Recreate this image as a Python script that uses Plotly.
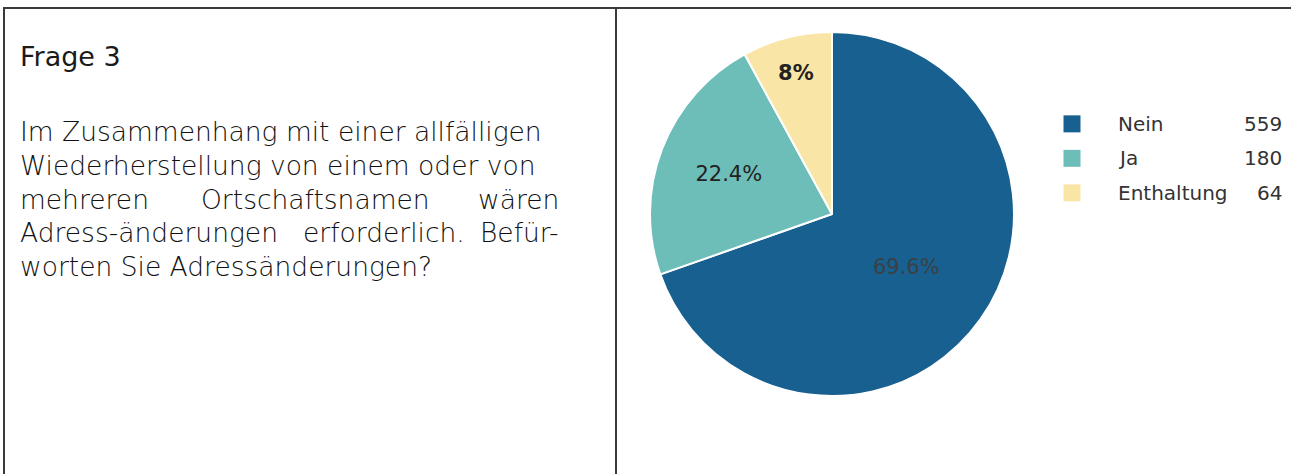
import plotly.graph_objects as go

# ---- data ----
categories = ["Nein", "Ja", "Enthaltung"]
counts = [559, 180, 64]
pct_labels = ["69.6%", "22.4%", "8%"]
colors = ["#17608f", "#6dbdb8", "#f9e6a6"]

title_text = "Frage 3"
question_lines = [
    ["Im Zusammenhang mit einer allfälligen"],
    ["Wiederherstellung von einem oder von"],
    ["mehreren", "Ortschaftsnamen", "wären"],
    ["Adress-änderungen", "erforderlich.", "Befür-"],
    ["worten Sie Adressänderungen?"],
]
# centres (px) of the middle words of justified lines
middle_word_centres = [[], [], [315], [384], []]

W, H = 1291, 474
fig = go.Figure()

# pie
fig.add_trace(go.Pie(
    labels=categories, values=counts, text=pct_labels,
    textinfo="text", sort=False, direction="clockwise", rotation=0,
    marker=dict(colors=colors, line=dict(color="white", width=2)),
    insidetextfont=dict(family="DejaVu Sans, sans-serif", size=21,
                        color=["#3b4045", "#222222", "#222222"],
                        weight=[400, 400, 700]),
    textposition="inside", insidetextorientation="horizontal",
    domain=dict(x=[650 / W, 1014 / W], y=[1 - 396 / H, 1 - 32 / H]),
    showlegend=False, hoverinfo="label+value+percent",
))

# custom legend swatches on hidden axes
idx = list(range(len(categories)))
fig.add_trace(go.Scatter(
    x=[1072] * len(categories), y=idx, mode="markers",
    marker=dict(symbol="square", size=17, color=colors),
    xaxis="x", yaxis="y", showlegend=False, hoverinfo="skip",
))
fig.update_layout(
    xaxis=dict(domain=[0, 1], range=[0, W], visible=False, fixedrange=True),
    yaxis=dict(domain=[0, 1], range=[10.15, -3.59], visible=False, fixedrange=True),
)
legend_font = dict(family="DejaVu Sans, sans-serif", size=20, color="#333333")
for i, (c, v) in enumerate(zip(categories, counts)):
    fig.add_annotation(x=1116, y=i, xref="x", yref="y", text=c, showarrow=False,
                       xanchor="left", yanchor="middle", font=legend_font)
    fig.add_annotation(x=1284, y=i, xref="x", yref="y", text=str(v), showarrow=False,
                       xanchor="right", yanchor="middle", font=legend_font)

# left panel text
fig.add_annotation(x=18 / W, y=1 - 57 / H, xref="paper", yref="paper", text=title_text,
                   showarrow=False, xanchor="left", yanchor="middle",
                   font=dict(family="DejaVu Sans, sans-serif", size=27, color="#1a1a1a"))

body_font = dict(family="DejaVu Sans, sans-serif", size=26.5, color="#111111", weight=200)
left_px, right_px = 18, 561
line_y0, line_step = 132, 33.5
for li, words in enumerate(question_lines):
    yp = 1 - (line_y0 + li * line_step) / H
    fig.add_annotation(x=left_px / W, y=yp, xref="paper", yref="paper", text=words[0],
                       showarrow=False, xanchor="left", yanchor="middle", font=body_font)
    if len(words) == 1:
        continue
    fig.add_annotation(x=right_px / W, y=yp, xref="paper", yref="paper", text=words[-1],
                       showarrow=False, xanchor="right", yanchor="middle", font=body_font)
    for w, cx in zip(words[1:-1], middle_word_centres[li]):
        fig.add_annotation(x=cx / W, y=yp, xref="paper", yref="paper", text=w,
                           showarrow=False, xanchor="center", yanchor="middle", font=body_font)

# frame lines
line_style = dict(color="#3a3a3a", width=2)
fig.add_shape(type="line", xref="paper", yref="paper", x0=3 / W, x1=1, y0=1 - 8 / H, y1=1 - 8 / H, line=line_style)
fig.add_shape(type="line", xref="paper", yref="paper", x0=4 / W, x1=4 / W, y0=0, y1=1 - 8 / H, line=line_style)
fig.add_shape(type="line", xref="paper", yref="paper", x0=616 / W, x1=616 / W, y0=0, y1=1 - 8 / H, line=line_style)

fig.update_layout(
    width=W, height=H, margin=dict(l=0, r=0, t=0, b=0),
    paper_bgcolor="white", plot_bgcolor="white",
)
fig.write_html("out.html", config={"displayModeBar": False},
               post_script="document.body.style.margin='0';document.body.style.overflow='hidden';")
